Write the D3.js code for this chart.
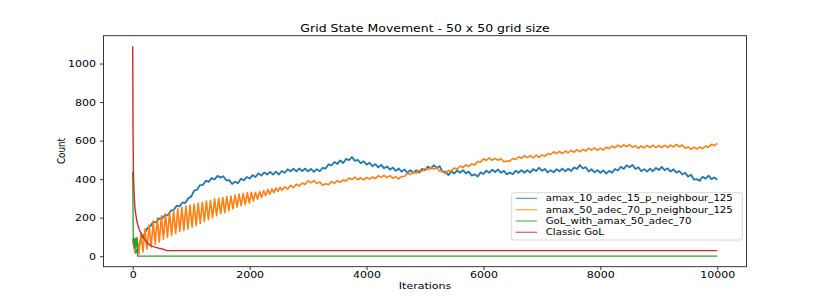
<!DOCTYPE html>
<html lang="en">
<head>
<meta charset="UTF-8">
<title>Grid State Movement - 50 x 50 grid size</title>
<script src="https://d3js.org/d3.v7.min.js"></script>
<style>
    body { margin: 0; padding: 0; background: #fff; }
    svg text { font-family: "DejaVu Sans", sans-serif; fill: #000; }
</style>
</head>
<body>
<div id="chart"></div>
<script>
// ---- data ----
const seriesNames = ["amax_10_adec_15_p_neighbour_125", "amax_50_adec_70_p_neighbour_125", "GoL_with_amax_50_adec_70", "Classic GoL"];
const seriesColors = ["#1f77b4", "#ff7f0e", "#2ca02c", "#d62728"];
const xTicks = [0, 2000, 4000, 6000, 8000, 10000];
const yTicks = [0, 200, 400, 600, 800, 1000];

// blue: iterations 0..10000, every 50
const blueCounts = [
  80, 18, 48, 96, 114, 146, 155, 178, 176, 196, 194, 214, 212, 236, 240, 262, 258, 279, 276, 301,
  309, 340, 345, 369, 370, 392, 386, 405, 399, 417, 408, 415, 394, 395, 375, 387, 379, 402, 394, 411,
  403, 421, 411, 430, 418, 435, 424, 438, 423, 439, 424, 442, 433, 451, 441, 455, 440, 456, 442, 455,
  441, 453, 438, 452, 441, 459, 455, 477, 471, 489, 479, 497, 484, 505, 498, 515, 495, 500, 483, 493,
  475, 485, 467, 478, 461, 474, 456, 466, 449, 460, 443, 455, 439, 450, 433, 447, 433, 447, 434, 453,
  446, 465, 455, 472, 459, 467, 438, 439, 421, 441, 429, 445, 433, 447, 430, 439, 418, 425, 413, 435,
  427, 444, 433, 449, 437, 450, 433, 443, 425, 435, 425, 444, 433, 447, 433, 447, 434, 452, 442, 459,
  443, 453, 435, 447, 435, 452, 441, 455, 440, 454, 442, 461, 453, 473, 455, 462, 440, 451, 435, 447,
  433, 445, 429, 443, 433, 453, 445, 464, 453, 472, 462, 473, 453, 462, 441, 452, 439, 454, 441, 458,
  447, 464, 446, 456, 439, 451, 433, 442, 424, 433, 413, 423, 398, 400, 391, 412, 402, 418, 400, 409,
  396
];

// orange: iterations 0..2520 every 35 (oscillating start), then 2550..10000 every 50
const orangeEarly = [
  90, 22, 98, 12, 118, 22, 142, 36, 162, 48, 182, 62, 198, 74, 210, 88, 220, 98, 228, 108,
  236, 118, 246, 128, 254, 134, 260, 140, 266, 150, 270, 160, 276, 170, 280, 180, 286, 190, 290, 200,
  298, 210, 300, 220, 305, 226, 310, 236, 312, 246, 318, 255, 322, 262, 326, 268, 330, 276, 332, 286,
  331, 296, 336, 305, 341, 314, 346, 322, 350, 330, 355, 336, 358
];
const orangeLate = [
  342, 360, 348, 368, 356, 374, 364, 380, 372, 392, 381, 392, 378, 385, 368, 376, 371, 388, 378, 392,
  384, 396, 391, 406, 398, 410, 397, 407, 396, 409, 400, 411, 403, 418, 409, 420, 408, 418, 405, 412,
  401, 414, 415, 430, 424, 438, 431, 446, 441, 455, 449, 461, 452, 459, 441, 440, 428, 444, 443, 458,
  452, 468, 460, 474, 466, 479, 473, 492, 488, 505, 498, 510, 498, 507, 498, 506, 490, 494, 493, 507,
  502, 516, 508, 522, 512, 522, 510, 524, 513, 526, 518, 533, 528, 542, 532, 544, 533, 546, 537, 550,
  539, 553, 542, 555, 546, 561, 550, 562, 549, 561, 551, 566, 558, 572, 563, 577, 566, 578, 568, 580,
  565, 574, 560, 572, 562, 575, 564, 576, 564, 575, 563, 576, 564, 577, 567, 580, 568, 577, 560, 567,
  555, 566, 556, 567, 558, 572, 566, 581, 574, 586
];

// green: irregular early points, then flat at zero
const greenIter  = [0, 3, 6, 9, 12, 16, 20, 25, 30, 35, 40, 45, 50, 55, 60, 65, 70, 75, 80, 84, 10000];
const greenCount = [440, 300, 190, 120, 80, 95, 60, 88, 45, 92, 70, 90, 40, 85, 92, 50, 88, 65, 90, 0, 0];

// red: fast decay, then flat
const redIter  = [0, 3, 6, 10, 15, 22, 30, 40, 55, 70, 85, 100, 120, 140, 160, 180, 200, 230, 260, 290,
                  320, 350, 380, 410, 440, 470, 500, 530, 560, 600, 10000];
const redCount = [1090, 820, 620, 480, 395, 340, 285, 245, 210, 185, 165, 150, 132, 122, 106, 97, 88, 77, 66, 59,
                  54, 50, 47, 45, 42, 40, 38, 35, 31, 29, 29];

// ---- layout ----
const W = 830, H = 300;
const plot = {left: 103.5, right: 746.5, top: 35.7, bottom: 266.7};
const squash = 0.8;   // text in the picture is flattened vertically

function spread(values, first, last) {
  const n = values.length;
  return values.map((v, i) => [first + i * (last - first) / (n - 1), v]);
}
const seriesData = [
  spread(blueCounts, 0, 10000),
  spread(orangeEarly, 0, 2520).concat(spread(orangeLate, 2550, 10000)),
  greenIter.map((t, i) => [t, greenCount[i]]),
  redIter.map((t, i) => [t, redCount[i]])
];
const strokeW = [1.8, 1.6, 1.3, 1.4];

const svg = d3.select("#chart").append("svg")
    .attr("width", W).attr("height", H);

const x = d3.scaleLinear().domain([-500, 10500]).range([plot.left, plot.right]);
const y = d3.scaleLinear().domain([-54.5, 1144.5]).range([plot.bottom, plot.top]);

// lines
const line = d3.line().x(d => x(d[0])).y(d => y(d[1]));
svg.append("g").selectAll("path")
    .data(seriesData)
    .enter().append("path")
    .attr("d", line)
    .attr("fill", "none")
    .attr("stroke", (d, i) => seriesColors[i])
    .attr("stroke-width", (d, i) => strokeW[i])
    .attr("stroke-linejoin", "round");

// axes
const xAxis = svg.append("g")
    .attr("transform", `translate(0,${plot.bottom})`)
    .call(d3.axisBottom(x).tickValues(xTicks).tickSize(3.5).tickSizeOuter(0).tickFormat(d3.format("d")));
xAxis.select(".domain").remove();
xAxis.selectAll(".tick line").attr("stroke", "#000").attr("stroke-width", 0.8);
xAxis.selectAll(".tick text")
    .attr("y", null).attr("dy", null)
    .attr("transform", `translate(0,11.6) scale(1,${squash})`)
    .style("font-size", "11px");

const yAxis = svg.append("g")
    .attr("transform", `translate(${plot.left},0)`)
    .call(d3.axisLeft(y).tickValues(yTicks).tickSize(3.5).tickSizeOuter(0).tickFormat(d3.format("d")));
yAxis.select(".domain").remove();
yAxis.selectAll(".tick line").attr("stroke", "#000").attr("stroke-width", 0.8);
yAxis.selectAll(".tick text")
    .attr("x", null).attr("dy", null)
    .attr("transform", `translate(-7.5,3.1) scale(1,${squash})`)
    .style("font-size", "11px");

// frame
svg.append("rect")
    .attr("x", plot.left).attr("y", plot.top)
    .attr("width", plot.right - plot.left).attr("height", plot.bottom - plot.top)
    .attr("fill", "none").attr("stroke", "#222").attr("stroke-width", 0.9);

// labels
svg.append("text")
    .attr("transform", `translate(${(plot.left + plot.right) / 2},31.8) scale(1,${squash})`)
    .attr("text-anchor", "middle")
    .style("font-size", "12.5px")
    .text("Grid State Movement - 50 x 50 grid size");
svg.append("text")
    .attr("transform", `translate(${(plot.left + plot.right) / 2},289) scale(1,${squash})`)
    .attr("text-anchor", "middle")
    .style("font-size", "11px")
    .text("Iterations");
svg.append("text")
    .attr("transform", `translate(64.5,151) scale(1,${squash}) rotate(-90)`)
    .attr("text-anchor", "middle")
    .style("font-size", "11px")
    .text("Count");

// legend
const legend = svg.append("g");
legend.append("rect")
    .attr("x", 511.7).attr("y", 192.7).attr("width", 230.6).attr("height", 47.3)
    .attr("rx", 2).attr("fill", "#fff").attr("fill-opacity", 0.8)
    .attr("stroke", "#ccc").attr("stroke-width", 0.8);
const rows = legend.selectAll(".row")
    .data(seriesNames)
    .enter().append("g")
    .attr("transform", (d, i) => `translate(0,${198.4 + i * 11.3})`);
rows.append("line")
    .attr("x1", 515.5).attr("x2", 537).attr("y1", 0).attr("y2", 0)
    .attr("stroke", (d, i) => seriesColors[i]).attr("stroke-width", 1.3)
    .attr("stroke-opacity", 0.7);
rows.append("text")
    .attr("transform", `translate(545.7,3) scale(1,${squash})`)
    .style("font-size", "10.2px")
    .text(d => d);
</script>
</body>
</html>
